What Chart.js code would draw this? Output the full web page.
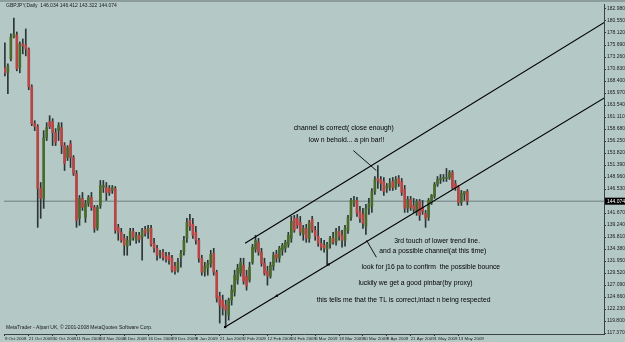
<!DOCTYPE html>
<html>
<head>
<meta charset="utf-8">
<script src="https://cdn.jsdelivr.net/npm/chart.js@4.4.0/dist/chart.umd.min.js"></script>
<style>
    html, body { margin: 0; padding: 0; background: #b4c9c5; }
    #wrap { width: 625px; height: 342px; }
</style>
</head>
<body>
<div id="wrap"><canvas id="gbpjpyChart" width="625" height="342"></canvas></div>
<script>
// GBPJPY daily candles, 9 Oct 2008 .. May 2009
const opens = [
    171.07, 170.06, 172.89, 177.33, 177.73, 171.07, 175.91, 175.71, 174.90, 167.24,
    159.77, 159.16, 146.65, 144.63, 156.94, 160.17, 160.17, 157.95, 158.36, 158.96,
    155.33, 152.91, 155.73, 152.91, 149.68, 140.60, 144.63, 140.80, 143.62, 144.84,
    142.82, 138.58, 143.22, 146.85, 146.85, 146.65, 146.25, 146.65, 138.78, 137.77,
    136.56, 134.95, 136.16, 137.97, 136.16, 137.17, 136.76, 138.38, 137.77, 138.58,
    135.55, 134.54, 133.33, 133.74, 132.93, 133.13, 132.53, 130.91, 130.10, 132.73,
    133.74, 136.56, 140.19, 139.39, 137.77, 136.16, 132.53, 129.70, 130.51, 131.31,
    133.53, 129.70, 124.86, 124.05, 123.04, 121.02, 124.05, 125.66, 128.09, 129.50,
    131.11, 128.89, 128.09, 131.72, 134.34, 135.75, 133.74, 131.52, 129.90, 128.89,
    130.91, 133.33, 132.53, 134.14, 134.54, 135.35, 136.56, 140.60, 140.60, 139.79,
    137.37, 138.58, 136.56, 140.40, 138.18, 136.97, 135.55, 135.15, 134.34, 135.35,
    136.56, 135.75, 137.97, 137.17, 136.16, 138.18, 140.80, 143.62, 144.23, 142.01,
    141.40, 138.98, 142.62, 143.02, 146.05, 148.67, 148.47, 148.06, 146.65, 146.85,
    148.06, 146.85, 148.67, 148.06, 146.45, 142.62, 144.43, 143.22, 141.81, 144.03,
    142.82, 141.61, 140.80, 143.83, 145.04, 147.46, 148.47, 148.67, 148.67, 148.87,
    149.88, 147.66, 146.85, 143.83, 145.44, 146.034
];
const highs = [
    176.11, 171.88, 177.93, 181.16, 178.33, 176.32, 176.92, 178.94, 175.11, 167.64,
    160.37, 159.57, 147.86, 158.36, 159.97, 161.38, 160.78, 158.76, 159.97, 159.97,
    155.93, 155.33, 156.34, 153.31, 150.28, 145.24, 145.84, 144.23, 145.24, 145.84,
    143.22, 143.22, 148.27, 148.27, 147.86, 147.26, 147.26, 147.06, 139.39, 138.58,
    137.37, 136.97, 138.58, 138.58, 137.77, 137.77, 138.58, 138.98, 139.18, 139.18,
    136.56, 135.15, 134.14, 134.34, 133.74, 133.74, 133.13, 131.72, 132.53, 134.14,
    136.97, 140.60, 141.40, 140.60, 138.98, 136.56, 133.13, 131.72, 132.12, 134.14,
    134.54, 130.10, 125.66, 125.06, 124.05, 124.45, 127.08, 130.10, 131.31, 132.53,
    132.53, 130.10, 131.72, 135.35, 137.17, 136.56, 134.54, 132.53, 130.91, 131.72,
    133.74, 134.14, 134.95, 135.55, 136.16, 137.77, 141.00, 141.20, 141.40, 141.00,
    139.18, 139.39, 140.19, 141.00, 138.98, 139.79, 136.56, 136.16, 135.75, 136.97,
    137.77, 138.58, 138.98, 138.18, 139.18, 141.20, 144.63, 145.04, 144.84, 143.02,
    142.62, 143.42, 144.63, 146.65, 149.07, 151.29, 149.07, 148.87, 147.66, 148.67,
    148.87, 149.07, 149.27, 148.67, 147.26, 145.04, 145.04, 144.63, 144.43, 144.43,
    144.23, 142.21, 144.63, 145.44, 147.86, 149.07, 149.48, 149.48, 150.69, 150.28,
    150.28, 148.27, 147.26, 146.25, 146.05, 146.412
];
const lows = [
    169.45, 165.82, 172.48, 177.13, 170.46, 170.06, 173.89, 173.49, 166.63, 159.36,
    158.36, 138.78, 140.60, 142.62, 156.34, 158.76, 155.33, 155.33, 156.34, 153.71,
    150.28, 152.30, 150.89, 149.27, 138.78, 139.18, 142.21, 139.79, 143.02, 142.21,
    137.77, 138.18, 142.62, 145.84, 144.23, 145.24, 145.64, 137.57, 136.16, 135.75,
    133.13, 133.13, 135.15, 136.16, 135.55, 135.75, 132.12, 136.97, 136.56, 134.95,
    133.74, 132.12, 132.53, 132.12, 131.72, 131.31, 129.70, 129.30, 129.70, 130.71,
    133.13, 135.75, 138.18, 136.56, 135.35, 131.72, 129.09, 128.89, 129.09, 130.71,
    129.09, 123.65, 119.41, 121.02, 118.60, 120.01, 123.04, 124.86, 127.28, 128.89,
    127.28, 126.07, 127.68, 131.31, 133.74, 133.13, 130.91, 129.09, 127.08, 128.49,
    130.10, 131.72, 131.72, 133.13, 133.74, 134.75, 135.75, 137.77, 138.58, 137.17,
    136.16, 135.75, 135.75, 137.77, 136.16, 134.95, 134.14, 133.74, 131.11, 134.54,
    135.35, 135.15, 136.16, 134.75, 134.95, 137.57, 140.19, 143.02, 141.00, 139.79,
    138.58, 137.37, 141.40, 141.81, 145.44, 146.65, 146.25, 145.24, 145.84, 146.25,
    146.25, 146.45, 147.06, 145.24, 141.81, 141.81, 142.21, 141.81, 141.20, 140.19,
    141.40, 138.78, 140.19, 143.42, 144.63, 147.06, 147.66, 148.06, 148.06, 148.47,
    146.45, 146.25, 143.22, 143.22, 144.23, 143.322
];
const closes = [
    170.06, 171.47, 177.33, 177.93, 170.87, 175.91, 175.51, 174.90, 167.24, 159.77,
    159.16, 146.65, 144.63, 156.94, 158.96, 159.16, 157.95, 155.93, 159.36, 155.33,
    151.70, 154.93, 152.91, 149.68, 140.19, 144.63, 142.82, 143.62, 144.84, 142.82,
    138.58, 142.82, 147.26, 147.26, 145.84, 145.84, 146.85, 138.18, 137.77, 136.16,
    135.15, 136.16, 137.97, 136.76, 137.17, 136.36, 138.18, 137.57, 138.58, 135.35,
    134.54, 133.13, 133.53, 132.73, 132.32, 132.12, 130.10, 129.90, 131.72, 133.53,
    136.16, 139.79, 138.98, 137.17, 136.16, 132.53, 129.70, 130.91, 131.52, 133.33,
    129.70, 124.45, 123.04, 122.44, 122.03, 124.05, 126.07, 129.09, 130.51, 131.72,
    127.88, 126.88, 130.71, 134.75, 136.16, 133.74, 131.52, 129.50, 128.89, 131.11,
    133.13, 132.53, 134.54, 135.15, 135.75, 137.17, 139.99, 138.18, 139.18, 137.77,
    138.58, 136.56, 139.79, 138.18, 136.97, 135.55, 134.75, 134.54, 135.35, 136.56,
    135.75, 137.97, 136.97, 136.16, 138.58, 140.80, 144.23, 144.23, 141.61, 140.60,
    139.59, 142.62, 143.62, 146.05, 148.47, 148.27, 147.66, 146.05, 147.06, 147.66,
    146.85, 148.47, 147.66, 145.84, 142.62, 144.43, 142.82, 142.41, 144.03, 141.20,
    142.01, 140.60, 144.23, 145.24, 147.46, 148.47, 148.67, 148.87, 148.87, 149.88,
    146.85, 146.85, 143.83, 145.64, 146.05, 144.074
];

// one date label every 8 bars
const dateLabels = [
    '9 Oct 2008', '21 Oct 2008', '30 Oct 2008', '11 Nov 2008', '24 Nov 2008',
    '4 Dec 2008', '16 Dec 2008', '29 Dec 2008', '9 Jan 2009', '21 Jan 2009',
    '2 Feb 2009', '12 Feb 2009', '24 Feb 2009', '6 Mar 2009', '18 Mar 2009',
    '30 Mar 2009', '9 Apr 2009', '21 Apr 2009', '1 May 2009', '13 May 2009'
];
const barsPerLabel = 8;

const priceTicks = [
    182.98, 180.55, 178.12, 175.69, 173.26, 170.83, 168.40, 165.97, 163.54, 161.11,
    158.68, 156.25, 153.82, 151.39, 148.96, 146.53, 141.67, 139.24, 136.81,
    134.38, 131.95, 129.52, 127.09, 124.66, 122.23, 119.80, 117.37
];

// trend lines (bar index, price)
const lowerTrend = [
    { x: 73.8, y: 118.60 }, { x: 91.15, y: 124.93 }, { x: 108.5, y: 131.27 }, { x: 201, y: 165.03 }
];
const upperTrend = [ { x: 80.5, y: 135.55 }, { x: 201, y: 180.30 } ];
const pinPointer = [ { x: 116.8, y: 154.32 }, { x: 124.5, y: 150.28 } ];
const touchPointer = [ { x: 121.2, y: 136.16 }, { x: 124.5, y: 132.73 } ];

const notes = [
    { text: 'channel is correct( close enough)', x: 96.8, y: 158.96 },
    { text: 'low n behold... a pin bar!!', x: 101.8, y: 156.34 },
    { text: '3rd touch of lower trend line.', x: 130.5, y: 135.96 },
    { text: 'and a possible channel(at this time)', x: 125.5, y: 133.94 },
    { text: 'look for j16 pa to confirm  the possible bounce', x: 119.5, y: 130.71 },
    { text: 'luckily we get a good pinbar(by proxy)', x: 118.5, y: 127.48 },
    { text: 'this tells me that the TL is correct,intact n being respected', x: 104.5, y: 124.05 }
];

const bullColor = '#4a6a2c';
const bearColor = '#b84444';
const wickColor = '#2c3535';
const lastIdx = closes.length - 1;

const mtDecor = {
    id: 'mtDecor',
    beforeDraw(chart) {
        const { ctx, width, height } = chart;
        ctx.save();
        ctx.fillStyle = '#b4c9c5';
        ctx.fillRect(0, 0, width, height);
        ctx.fillStyle = '#8c9d9c';
        ctx.fillRect(0, 0, width, 2);
        ctx.restore();
    },
    afterDraw(chart) {
        const { ctx, chartArea } = chart;
        const xs = chart.scales.x, ys = chart.scales.y;
        ctx.save();
        ctx.fillStyle = '#000';
        ctx.textBaseline = 'middle';
        ctx.textAlign = 'left';
        ctx.font = '6.8px "Liberation Sans", Arial, sans-serif';
        notes.forEach(n => {
            ctx.fillText(n.text, xs.getPixelForValue(n.x), ys.getPixelForValue(n.y));
        });

        // header and footer
        ctx.font = '5px "Liberation Sans", Arial, sans-serif';
        ctx.fillStyle = '#1a1a1a';
        const head = 'GBPJPY,Daily  ' + [opens[lastIdx], highs[lastIdx], lows[lastIdx], closes[lastIdx]]
            .map(v => v.toFixed(3)).join(' ');
        ctx.fillText(head, chartArea.left + 2, chartArea.top + 1.5);
        ctx.fillText('MetaTrader - Alpari UK, \u00a9 2001-2008 MetaQuotes Software Corp.', chartArea.left + 2, chartArea.bottom - 6);

        // current price box on the axis
        const py = ys.getPixelForValue(closes[lastIdx]);
        ctx.fillStyle = '#000';
        ctx.fillRect(chartArea.right + 1, py - 3.5, 21, 7);
        ctx.fillStyle = '#fff';
        ctx.fillText(closes[lastIdx].toFixed(3), chartArea.right + 3, py);
        ctx.restore();
    }
};

const ctx = document.getElementById('gbpjpyChart').getContext('2d');
new Chart(ctx, {
    type: 'bar',
    data: {
        datasets: [
            {
                type: 'line',
                data: [{ x: -0.5, y: closes[lastIdx] }, { x: 201, y: closes[lastIdx] }],
                borderColor: '#6f7f7d',
                borderWidth: 1,
                pointRadius: 0,
                order: 5
            },
            {
                label: 'wicks',
                data: lows.map((l, i) => ({ x: i, y: [l, highs[i]] })),
                backgroundColor: wickColor,
                barThickness: 1,
                grouped: false,
                order: 3
            },
            {
                label: 'bodies',
                data: opens.map((o, i) => ({ x: i, y: [o, closes[i]] })),
                backgroundColor: opens.map((o, i) => closes[i] >= o ? bullColor : bearColor),
                barThickness: 2,
                minBarLength: 1,
                grouped: false,
                order: 2
            },
            {
                type: 'line',
                data: lowerTrend,
                borderColor: '#000',
                borderWidth: 1.1,
                pointRadius: [1.5, 1.5, 1.5, 0],
                pointStyle: 'rect',
                pointBackgroundColor: '#000',
                pointBorderWidth: 0,
                order: 1
            },
            {
                type: 'line',
                data: upperTrend,
                borderColor: '#000',
                borderWidth: 1.1,
                pointRadius: 0,
                order: 1
            },
            {
                type: 'line',
                data: pinPointer,
                borderColor: '#000',
                borderWidth: 0.9,
                pointRadius: 0,
                order: 1
            },
            {
                type: 'line',
                data: touchPointer,
                borderColor: '#000',
                borderWidth: 0.9,
                pointRadius: 0,
                order: 1
            }
        ]
    },
    options: {
        responsive: false,
        animation: false,
        devicePixelRatio: 1,
        layout: { padding: { top: 2, left: -3, right: 0, bottom: 0 } },
        plugins: {
            legend: { display: false },
            tooltip: { enabled: false }
        },
        scales: {
            x: {
                type: 'linear',
                offset: false,
                min: -0.3,
                max: 200.8,
                afterBuildTicks: scale => {
                    scale.ticks = dateLabels.map((d, k) => ({ value: k * barsPerLabel }));
                },
                afterFit: scale => {
                    scale.height = 8;
                    scale.paddingLeft = 0;
                    scale.paddingRight = 0;
                },
                ticks: {
                    autoSkip: false,
                    maxRotation: 0,
                    align: 'start',
                    padding: 0,
                    color: '#1a1a1a',
                    font: { family: '"Liberation Sans", Arial, sans-serif', size: 4.4 },
                    callback: v => dateLabels[Math.round(v / barsPerLabel)]
                },
                grid: { offset: false, drawOnChartArea: false, tickLength: 2, color: '#333' },
                border: { color: '#3a4242', width: 1 }
            },
            y: {
                position: 'right',
                min: 117.19,
                max: 183.99,
                afterBuildTicks: scale => {
                    scale.ticks = priceTicks.map(v => ({ value: v }));
                },
                afterFit: scale => {
                    scale.width = 21;
                    scale.paddingTop = 0;
                    scale.paddingBottom = 0;
                },
                ticks: {
                    padding: 1,
                    color: '#1a1a1a',
                    font: { family: '"Liberation Sans", Arial, sans-serif', size: 5 },
                    callback: v => v.toFixed(3)
                },
                grid: { drawOnChartArea: false, tickLength: 2, color: '#333' },
                border: { color: '#3a4242', width: 1 }
            }
        }
    },
    plugins: [mtDecor]
});
</script>
</body>
</html>
